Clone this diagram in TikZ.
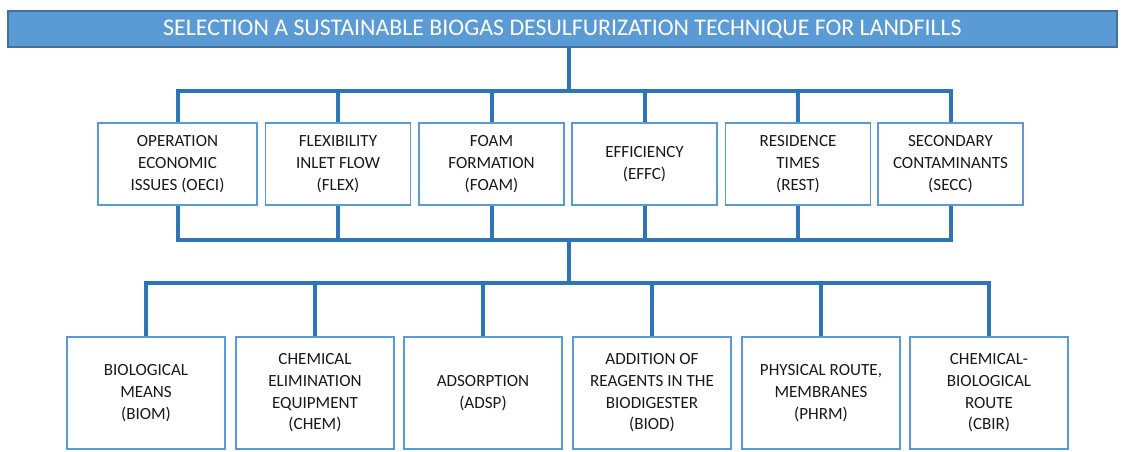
\documentclass[tikz,border=0pt]{standalone}
\usepackage{fontspec}
\setmainfont{Carlito}

\definecolor{barblue}{HTML}{5B9BD5}
\definecolor{bardark}{HTML}{41719C}
\definecolor{lineblue}{HTML}{2E75B6}

\begin{document}
\begin{tikzpicture}[
  x=0.75pt, y=-0.75pt,
  title/.style={draw=bardark, line width=1.2pt, fill=barblue, text=white,
    minimum width=831.75pt, minimum height=27pt, inner sep=0pt,
    font=\fontsize{17.9}{20}\selectfont},
  crit/.style={draw=barblue, line width=1.1pt, align=center, inner sep=0pt,
    minimum width=108.75pt, minimum height=61.5pt, text=black!90,
    font=\fontsize{12.8}{16.3}\selectfont},
  tech/.style={crit, minimum width=118.5pt, minimum height=84pt},
  link/.style={draw=lineblue, line width=3pt}
]
\useasboundingbox (0,0) rectangle (1121,451);

\node[title] (title) at (562.5,29) {SELECTION A SUSTAINABLE BIOGAS DESULFURIZATION TECHNIQUE FOR LANDFILLS};

% criteria
\node[crit, minimum width=119.25pt] (oeci) at (177.5,164) {OPERATION\\ECONOMIC\\ISSUES (OECI)};
\node[crit] (flex) at (338,164) {FLEXIBILITY\\INLET FLOW\\(FLEX)};
\node[crit] (foam) at (491.5,164) {FOAM\\FORMATION\\(FOAM)};
\node[crit] (effc) at (644.5,164) {EFFICIENCY\\(EFFC)};
\node[crit] (rest) at (798,164) {RESIDENCE\\TIMES\\(REST)};
\node[crit] (secc) at (950.5,164) {SECONDARY\\CONTAMINANTS\\(SECC)};

% techniques
\node[tech] (biom) at (146,393) {BIOLOGICAL\\MEANS\\(BIOM)};
\node[tech] (chem) at (315,393) {CHEMICAL\\ELIMINATION\\EQUIPMENT\\(CHEM)};
\node[tech] (adsp) at (483,393) {ADSORPTION\\(ADSP)};
\node[tech] (biod) at (652,393) {ADDITION OF\\REAGENTS IN THE\\BIODIGESTER\\(BIOD)};
\node[tech] (phrm) at (821,393) {PHYSICAL ROUTE,\\MEMBRANES\\(PHRM)};
\node[tech] (cbir) at (989,393) {CHEMICAL-\\BIOLOGICAL\\ROUTE\\(CBIR)};

\coordinate (bus1) at (569,91);
\coordinate (bus2) at (569,240);
\coordinate (bus3) at (569,283);

\draw[link] (title.south -| bus1) -- (bus1);
\draw[link] (oeci.north) |- (bus1) -| (secc.north);
\foreach \n in {flex,foam,effc,rest}
  \draw[link] (\n.north) -- (\n.north |- bus1);

\draw[link] (oeci.south) |- (bus2) -| (secc.south);
\foreach \n in {flex,foam,effc,rest}
  \draw[link] (\n.south) -- (\n.south |- bus2);
\draw[link] (bus2) -- (bus3);

\draw[link] (biom.north) |- (bus3) -| (cbir.north);
\foreach \n in {chem,adsp,biod,phrm}
  \draw[link] (\n.north) -- (\n.north |- bus3);
\end{tikzpicture}
\end{document}
